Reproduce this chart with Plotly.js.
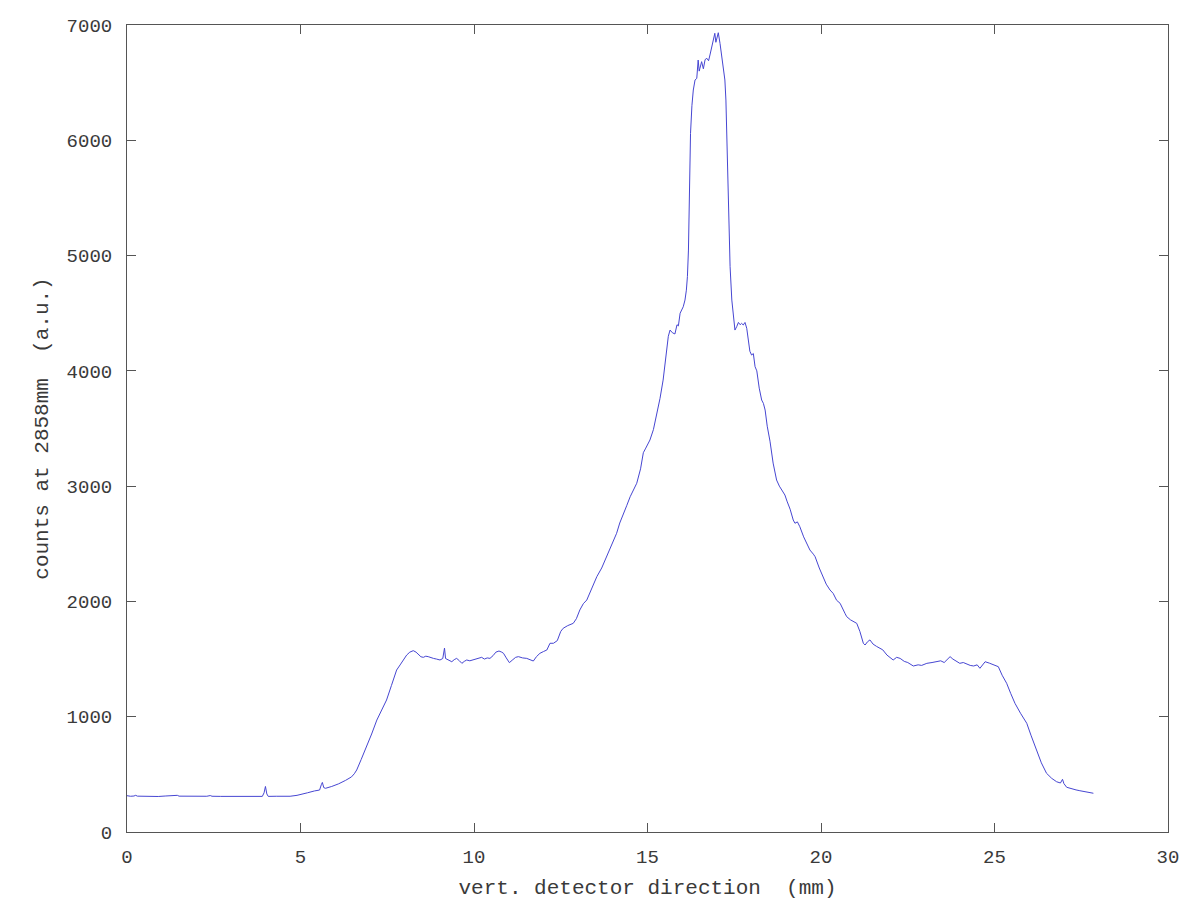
<!DOCTYPE html>
<html>
<head>
<meta charset="utf-8">
<script src="https://cdn.plot.ly/plotly-3.0.1.min.js"></script>
<style>html,body{margin:0;padding:0;background:#fff;}#chart{width:1200px;height:900px;}</style>
</head>
<body>
<div id="chart"></div>
<script>
// position along the vertical detector direction (mm)
const positionMm = [
  0.0,0.1,0.2,0.25,0.3,0.5,0.7,0.9,1.1,1.3,1.35,1.45,1.5,1.7,1.9,2.1,2.3,2.4,2.45,2.7,2.9,3.1,3.3,3.5,3.7,3.9,3.95,3.99,4.03,4.07,4.3,4.5,4.7,4.9,
  5.0,5.2,5.4,5.55,5.6,5.63,5.67,5.72,5.9,6.1,6.3,6.47,6.55,6.62,6.75,6.91,7.05,7.2,7.35,7.48,7.62,7.77,7.87,7.95,
  8.06,8.15,8.25,8.33,8.40,8.47,8.54,8.61,8.68,8.75,8.83,8.92,9.02,9.1,9.15,9.18,9.21,9.28,9.36,9.43,9.50,9.58,9.65,9.72,9.79,9.88,9.98,
  10.1,10.22,10.3,10.38,10.46,10.55,10.63,10.72,10.8,10.85,10.93,11.02,11.1,11.2,11.28,11.4,11.52,11.62,11.71,11.8,11.9,
  12.0,12.1,12.19,12.29,12.4,12.5,12.57,12.7,12.86,12.95,13.05,13.15,13.25,13.4,13.54,13.68,13.82,13.95,
  14.11,14.2,14.3,14.4,14.5,14.6,14.69,14.8,14.88,14.95,15.07,15.17,15.25,15.36,15.45,15.5,15.55,15.6,15.65,15.72,15.79,15.85,15.89,15.94,
  16.03,16.08,16.12,16.15,16.18,16.2,16.24,16.28,16.32,16.37,16.42,16.46,16.49,16.51,16.56,16.61,16.66,16.71,16.76,16.8,16.85,16.9,16.94,16.97,16.99,
  17.04,17.09,17.17,17.23,17.26,17.31,17.36,17.38,17.43,17.48,17.52,17.57,17.62,17.67,17.71,17.76,17.81,17.86,17.95,
  18.0,18.05,18.1,18.15,18.22,18.29,18.34,18.39,18.45,18.53,18.62,18.72,18.8,18.91,18.96,
  19.02,19.11,19.2,19.25,19.32,19.39,19.5,19.6,19.68,19.78,19.83,19.95,
  20.07,20.15,20.26,20.35,20.45,20.55,20.69,20.74,20.85,20.95,21.03,21.12,21.22,21.27,21.34,21.41,21.5,21.6,21.7,21.78,21.9,
  22.0,22.08,22.18,22.28,22.4,22.5,22.66,22.8,22.9,23.05,23.2,23.33,23.45,23.55,23.65,23.72,23.8,23.9,
  24.0,24.1,24.2,24.3,24.4,24.5,24.58,24.65,24.73,24.85,24.95,25.11,25.22,25.35,25.47,25.59,25.75,25.93,
  26.05,26.22,26.35,26.5,26.65,26.79,26.9,26.96,27.0,27.08,27.2,27.35,27.46,27.6,27.75,27.85
];
// counts at 2858mm (a.u.)
const counts = [
  315,310,312,318,311,309,311,308,312,316,312,318,311,310,309,311,310,316,310,309,310,308,310,309,310,309,340,395,330,309,310,308,310,318,
  327,340,356,364,410,430,385,379,395,418,448,478,505,538,630,740,850,971,1060,1145,1270,1405,1449,1490,
  1535,1560,1573,1560,1535,1520,1515,1525,1521,1512,1506,1500,1492,1505,1595,1505,1500,1490,1477,1495,1506,1485,1463,1480,1492,1485,1492,
  1500,1515,1500,1510,1506,1530,1560,1570,1560,1550,1510,1469,1490,1515,1521,1510,1506,1495,1483,1521,1550,
  1565,1579,1637,1637,1660,1740,1767,1790,1810,1850,1926,1980,2012,2110,2215,2290,2388,2470,
  2591,2680,2764,2830,2908,2975,3025,3150,3290,3330,3400,3490,3600,3760,3920,4036,4200,4300,4354,4330,4320,4400,4390,4500,
  4556,4614,4700,4817,5048,5477,6060,6300,6436,6523,6537,6696,6600,6624,6682,6620,6700,6711,6690,6740,6800,6870,6928,6850,6880,
  6933,6840,6638,6523,6349,5771,5048,4904,4614,4441,4354,4383,4420,4400,4412,4398,4420,4369,4170,
  4137,4150,4036,4000,3850,3747,3718,3660,3520,3390,3200,3053,3000,2938,2923,
  2870,2800,2706,2678,2690,2648,2560,2490,2446,2410,2388,2290,
  2200,2150,2099,2070,2010,1984,1897,1868,1840,1825,1810,1740,1637,1622,1650,1666,1630,1610,1593,1580,1535,
  1510,1492,1515,1506,1480,1470,1440,1450,1445,1463,1470,1477,1485,1470,1500,1521,1500,1480,
  1463,1470,1455,1445,1440,1450,1420,1450,1477,1465,1455,1434,1360,1290,1200,1116,1030,943,
  840,711,600,509,465,436,425,457,420,388,375,365,358,350,340,336
];
const xTickValues = [0,5,10,15,20,25,30];
const yTickValues = [0,1000,2000,3000,4000,5000,6000,7000];
const xTitle = "vert. detector direction\u00a0 (mm)";
const yTitle = "counts at 2858mm\u00a0 (a.u.)";

const fontFamily = "'Liberation Mono', 'DejaVu Sans Mono', monospace";
const axisCommon = {
  showline: true, linecolor: '#555', linewidth: 1, mirror: 'ticks',
  ticks: 'inside', ticklen: 9, tickwidth: 1, tickcolor: '#555',
  showgrid: false, zeroline: false,
  tickfont: {family: fontFamily, size: 19, color: '#3a3a3a'}
};
const trace = {
  x: positionMm, y: counts, type: 'scatter', mode: 'lines',
  line: {color: '#4646d2', width: 1}, hoverinfo: 'skip'
};
const layout = {
  width: 1200, height: 900,
  margin: {l: 127, r: 32, t: 25, b: 68},
  paper_bgcolor: '#fff', plot_bgcolor: '#fff',
  showlegend: false,
  xaxis: Object.assign({}, axisCommon, {
    range: [0, 30], tickvals: xTickValues, ticklabelstandoff: 7,
    title: {text: xTitle, font: {family: fontFamily, size: 21, color: '#3a3a3a'}, standoff: 12}
  }),
  yaxis: Object.assign({}, axisCommon, {
    range: [0, 7000], tickvals: yTickValues, ticklabelstandoff: 10,
    title: {text: yTitle, font: {family: fontFamily, size: 21, color: '#3a3a3a'}, standoff: 12}
  })
};
Plotly.newPlot('chart', [trace], layout, {staticPlot: true, displayModeBar: false});
</script>
</body>
</html>
